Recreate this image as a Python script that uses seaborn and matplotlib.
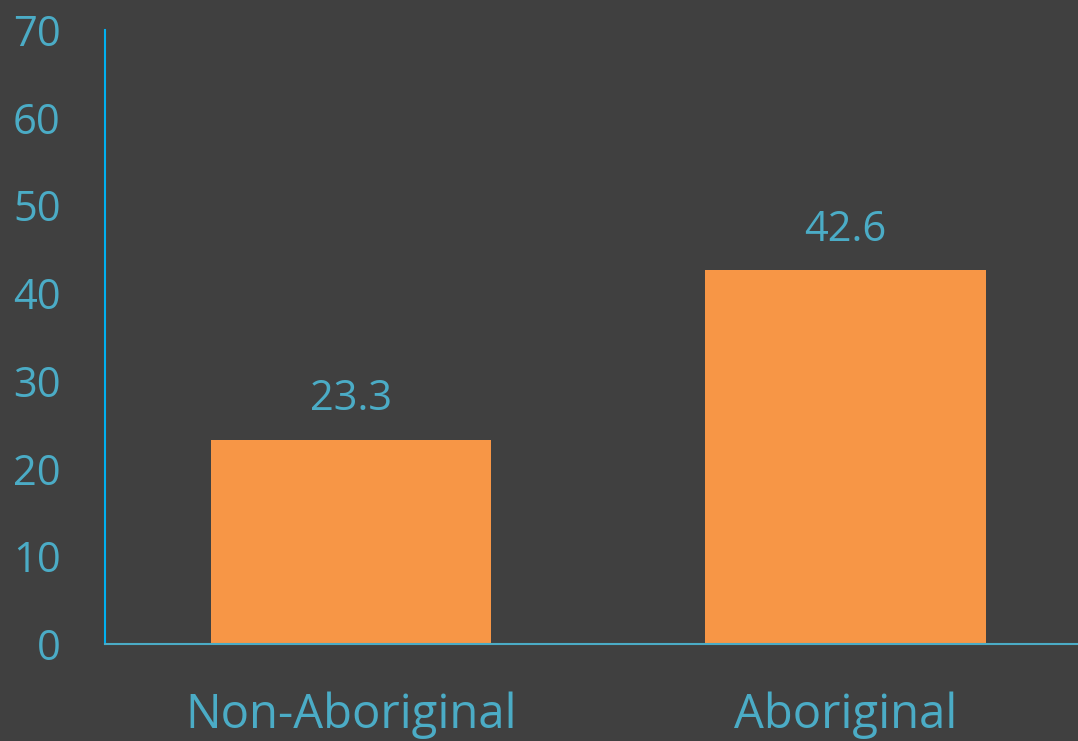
import pandas as pd
import matplotlib
matplotlib.use("Agg")
import matplotlib.pyplot as plt
import seaborn as sns

# Dados do gráfico
categorias = ["Non-Aboriginal", "Aboriginal"]
valores = [23.3, 42.6]
y_ticks = [0, 10, 20, 30, 40, 50, 60, 70]

fundo = "#404040"
texto = "#4bacc6"
laranja = "#f79646"

sns.set_style("dark")
plt.rcParams["font.family"] = ["Open Sans", "DejaVu Sans"]

df = pd.DataFrame({"Grupo": categorias, "Valor": valores})

fig = plt.figure(figsize=(10.78, 7.41), dpi=100, facecolor=fundo)
ax = fig.add_axes([0.0974, 0.1309, 0.9026, 0.8286])
ax.set_facecolor(fundo)

sns.barplot(data=df, x="Grupo", y="Valor", color=laranja, width=0.567,
            saturation=1, linewidth=0, ax=ax)

for i, v in enumerate(valores):
    ax.text(i, v + 2.2, f"{v}", ha="center", va="bottom", color=texto, fontsize=30)

ax.set_ylim(0, 70)
ax.set_xlim(-0.498, 1.47)
ax.set_yticks(y_ticks)
ax.set_xlabel("")
ax.set_ylabel("")
ax.tick_params(axis="y", colors=texto, labelsize=30, length=0, pad=32)
ax.tick_params(axis="x", colors=texto, labelsize=34, length=0, pad=34)
ax.grid(False)

for s in ["top", "right"]:
    ax.spines[s].set_visible(False)
ax.spines["left"].set_color("#00b0f0")
ax.spines["bottom"].set_color("#4bacc6")
ax.spines["left"].set_linewidth(1.5)
ax.spines["bottom"].set_linewidth(1.5)

fig.savefig("out.png", dpi=100, facecolor=fundo)
